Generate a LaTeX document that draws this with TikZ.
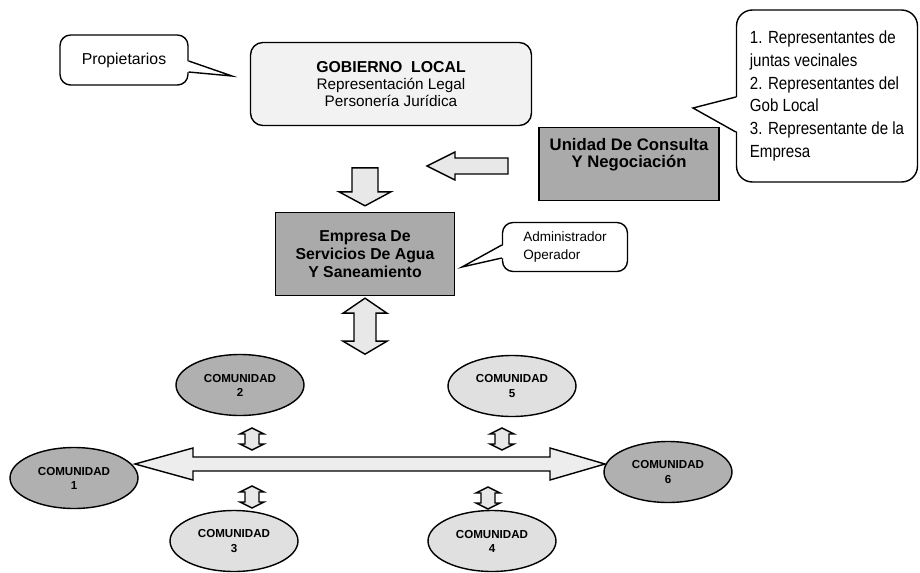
\documentclass[tikz,border=0pt]{standalone}
\usepackage{fontspec}
\setmainfont{Liberation Sans}
\newfontfamily\narrowsans[FakeStretch=0.86]{Liberation Sans}
\usepackage{xcolor}
\usepackage{tikz}
\usetikzlibrary{shapes.geometric, calc}

\definecolor{grisclaro}{RGB}{242,242,242}
\definecolor{grisoscuro}{RGB}{170,170,170}
\definecolor{griselipse}{RGB}{176,176,176}
\definecolor{grismedio}{RGB}{224,224,224}
\definecolor{grisflecha}{RGB}{232,232,232}

\begin{document}
\begin{tikzpicture}[
  x=0.02cm, y=-0.02cm,
  caja/.style={draw=black, line width=0.8pt, inner sep=2pt, align=center},
  nota/.style={draw=black, fill=white, line width=0.8pt, rounded corners=6pt, inner sep=2pt},
  punta/.style={draw=black, line width=0.8pt},
  comu/.style={ellipse, draw=black, line width=0.8pt, minimum width=2.56cm, minimum height=1.22cm,
    inner sep=0pt, align=center, font=\fontsize{6.6}{8}\selectfont\bfseries},
  flecha/.style={draw=black, fill=grisflecha, line width=0.8pt, line join=miter}
]
  \useasboundingbox (0,0) rectangle (920,572);

  % Top row: owners, local government, consultation unit
  \node[caja, rounded corners=7pt, fill=grisclaro, minimum width=5.62cm, minimum height=1.66cm,
        font=\fontsize{8.7}{9.5}\selectfont] (gob) at (391,84)
        {\textbf{\fontsize{9}{9.5}\selectfont GOBIERNO\ \ LOCAL}\\Representación Legal\\Personería Jurídica};
  \node[caja, fill=grisoscuro, minimum width=3.6cm, minimum height=1.46cm, text depth=0.45cm,
        font=\fontsize{9.5}{10}\selectfont\bfseries] (uni) at (629,164)
        {Unidad De Consulta\\Y Negociación};
  \node[caja, fill=grisoscuro, minimum width=3.58cm, minimum height=1.66cm,
        font=\fontsize{9}{10.4}\selectfont\bfseries] (emp) at (365,254)
        {Empresa De\\Servicios De Agua\\Y Saneamiento};

  % Callouts
  \node[nota, minimum width=2.56cm, minimum height=1.0cm, font=\fontsize{9}{10}\selectfont] (prop) at (124,60)
        {Propietarios};
  \node[nota, rounded corners=9pt, minimum width=3.62cm, minimum height=3.44cm, align=left,
        font=\narrowsans\fontsize{10}{12.9}\selectfont] (rep) at (827,96)
        {1. Representantes de\\juntas vecinales\\2. Representantes del\\Gob Local\\3. Representante de la\\Empresa};
  \node[nota, minimum width=2.5cm, minimum height=0.98cm, align=left,
        font=\fontsize{7.7}{10.8}\selectfont] (adm) at (565,247)
        {Administrador\\Operador};

  % Callout pointers
  \coordinate (tprop) at (232,76);
  \fill[white] ($(prop.east)+(-2,1)$) -- (tprop) -- ($(prop.east)+(-2,12)$) -- cycle;
  \draw[punta] ($(prop.east)+(0,1)$) -- (tprop) -- ($(prop.east)+(0,12)$);
  \coordinate (trep) at (693,108);
  \fill[white] ($(rep.west)+(2,1)$) -- (trep) -- ($(rep.west)+(2,36)$) -- cycle;
  \draw[punta] ($(rep.west)+(0,1)$) -- (trep) -- ($(rep.west)+(0,36)$);
  \coordinate (tadm) at (462,267);
  \fill[white] ($(adm.west)+(2,-2)$) -- (tadm) -- ($(adm.west)+(2,11)$) -- cycle;
  \draw[punta] ($(adm.west)+(0,-2)$) -- (tadm) -- ($(adm.west)+(0,11)$);

  % Block arrows around the company
  \draw[flecha] (427,166) coordinate (fi) -- ++(28,-14) -- ++(0,6) -- ++(53,0) -- ++(0,16)
    -- ++(-53,0) -- ++(0,6) -- cycle;
  \draw[flecha] ($(emp.north)+(0,-6)$) coordinate (fb) -- ++(-26,-14) -- ++(13,0) -- ++(0,-24)
    -- ++(26,0) -- ++(0,24) -- ++(13,0) -- cycle;
  \draw[flecha] ($(emp.south)+(0,2)$) coordinate (fd) -- ++(22,15) -- ++(-11,0) -- ++(0,28)
    -- ++(11,0) -- ++(-22,13) -- ++(-22,-13) -- ++(11,0) -- ++(0,-28) -- ++(-11,0) -- cycle;

  % Communities
  \node[comu, fill=griselipse] (c1) at (74,478) {COMUNIDAD\\1};
  \node[comu, fill=griselipse] (c2) at (240,385) {COMUNIDAD\\2};
  \node[comu, fill=grismedio]  (c3) at (234,541) {COMUNIDAD\\3};
  \node[comu, fill=grismedio]  (c4) at (492,541) {COMUNIDAD\\4};
  \node[comu, fill=grismedio]  (c5) at (512,386) {COMUNIDAD\\5};
  \node[comu, fill=griselipse] (c6) at (668,472) {COMUNIDAD\\6};

  % Long link between community 1 and community 6
  \coordinate (li) at (135,464);
  \coordinate (ld) at (605,464);
  \draw[flecha, fill=grisflecha!80] (li) -- ++(58,-16) -- ++(0,9) -- ($(ld)+(-55,-7)$) -- ++(0,-9)
    -- (ld) -- ++(-55,16) -- ++(0,-9) -- ($(li)+(58,7)$) -- ++(0,9) -- cycle;

  % Small two-way arrows to the link
  \foreach \x/\y in {252/428, 502/428, 252/486, 488/487}{
    \draw[flecha] (\x,\y) -- ++(12,6) -- ++(-5,0) -- ++(0,10) -- ++(5,0) -- ++(-12,6)
      -- ++(-12,-6) -- ++(5,0) -- ++(0,-10) -- ++(-5,0) -- cycle;
  }
\end{tikzpicture}
\end{document}
